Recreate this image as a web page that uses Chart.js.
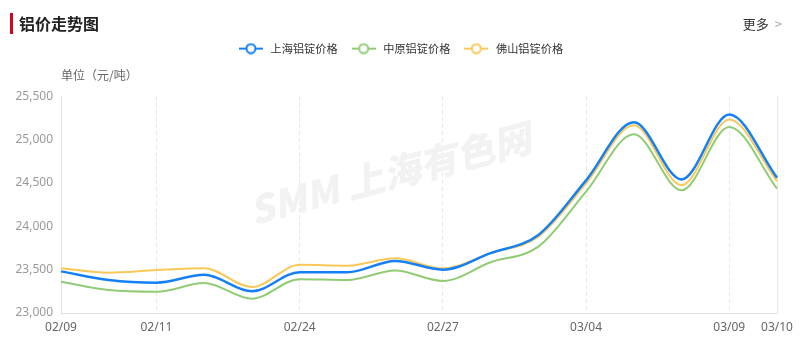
<!DOCTYPE html>
<html>
<head>
<meta charset="utf-8">
<script src="https://cdn.jsdelivr.net/npm/chart.js@4/dist/chart.umd.min.js"></script>
<style>
  body { margin: 0; background: #fff; font-family: 'Noto Sans CJK SC', 'Noto Sans', sans-serif; }
  #wrap { position: relative; width: 800px; height: 352px; }
  #wrap canvas { position: absolute; left: 0; top: 0; }
  .title { position: absolute; left: 10px; top: 13px; height: 21px; border-left: 3px solid #d9001b;
    padding-left: 6px; font-size: 16px; font-weight: bold; line-height: 21px; color: #222; }
  .more { position: absolute; right: 18px; top: 15px; font-size: 13px; color: #333; line-height: 18px; }
  .more span { color: #aaa; margin-left: 6px; }
  .unit { position: absolute; left: 61px; top: 66px; font-size: 12px; color: #666; line-height: 18px; }
</style>
</head>
<body>
<div id="wrap">
  <canvas id="chart" width="800" height="352"></canvas>
  <div class="title">铝价走势图</div>
  <div class="more">更多<span>&gt;</span></div>
  <div class="unit">单位（元/吨）</div>
</div>
<script>
/* data */
const dates = ['02/09', '02/10', '02/11', '02/12', '02/13', '02/24', '02/25', '02/26',
  '02/27', '03/02', '03/03', '03/04', '03/05', '03/06', '03/09', '03/10'];
const shownDates = ['02/09', '02/11', '02/24', '02/27', '03/04', '03/09', '03/10'];

const shanghai = [23480, 23380, 23350, 23440, 23250, 23470, 23470, 23600,
  23500, 23690, 23900, 24530, 25200, 24540, 25290, 24560];
const zhongyuan = [23360, 23265, 23245, 23345, 23165, 23390, 23380, 23490,
  23370, 23585, 23765, 24400, 25060, 24415, 25145, 24435];
const foshan = [23515, 23465, 23495, 23515, 23300, 23555, 23545, 23630,
  23515, 23690, 23880, 24495, 25165, 24475, 25230, 24520];

const seriesNames = ['上海铝锭价格', '中原铝锭价格', '佛山铝锭价格'];
const seriesColors = ['#1580f5', '#91cc75', '#fac858'];

const yMin = 23000;
const yMax = 25500;
const yStep = 500;

function legendIcon (color) {
  const c = document.createElement('canvas');
  c.width = 24;
  c.height = 12;
  const g = c.getContext('2d');
  g.strokeStyle = color;
  g.lineWidth = 2;
  g.beginPath();
  g.moveTo(0, 6);
  g.lineTo(24, 6);
  g.stroke();
  g.fillStyle = '#fff';
  g.beginPath();
  g.arc(12, 6, 4.5, 0, Math.PI * 2);
  g.fill();
  g.stroke();
  return c;
}

// leave room under the legend for the unit label
const legendGap = {
  id: 'legendGap',
  beforeInit (chart) {
    const lg = chart.legend;
    if (!lg) return;
    const fit = lg.fit;
    lg.fit = function () {
      fit.call(this);
      this.height += 32;
    };
  }
};

const watermark = {
  id: 'watermark',
  beforeDatasetsDraw (chart) {
    const ctx = chart.ctx;
    ctx.save();
    ctx.translate(390, 174);
    ctx.rotate(-15 * Math.PI / 180);
    ctx.fillStyle = '#f2f2f2';
    ctx.textAlign = 'center';
    ctx.textBaseline = 'middle';
    ctx.font = 'italic 900 38px "Noto Sans CJK SC", sans-serif';
    ctx.fillText('SMM 上海有色网', 0, 0);
    ctx.restore();
  }
};

const gridIdx = [2, 5, 8, 11, 14];

new Chart(document.getElementById('chart'), {
  type: 'line',
  data: {
    labels: dates,
    datasets: [shanghai, zhongyuan, foshan].map((vals, i) => ({
      label: seriesNames[i],
      data: vals,
      borderColor: seriesColors[i],
      backgroundColor: seriesColors[i],
      borderWidth: i === 0 ? 2.5 : 2,
      pointRadius: 0,
      cubicInterpolationMode: 'monotone',
      fill: false
    }))
  },
  options: {
    responsive: false,
    animation: false,
    events: [],
    layout: { padding: { top: 31, right: 0, bottom: 0, left: 0 } },
    plugins: {
      tooltip: { enabled: false },
      legend: {
        position: 'top',
        labels: {
          usePointStyle: true,
          pointStyleWidth: 28,
          padding: 12,
          color: '#333',
          font: { size: 11.2, family: '"Noto Sans CJK SC", sans-serif' },
          generateLabels (chart) {
            return chart.data.datasets.map((ds, i) => ({
              text: ds.label,
              pointStyle: legendIcon(seriesColors[i]),
              fillStyle: seriesColors[i],
              strokeStyle: seriesColors[i],
              fontColor: '#333',
              lineWidth: 0,
              datasetIndex: i
            }));
          }
        }
      }
    },
    scales: {
      x: {
        grid: {
          drawTicks: false,
          color: (c) => gridIdx.includes(c.index) ? '#e8e8e8' : 'rgba(0,0,0,0)'
        },
        border: { color: '#e0e0e0', dash: [4, 3] },
        ticks: {
          autoSkip: false,
          maxRotation: 0,
          padding: 7,
          color: '#666',
          font: { size: 12, family: '"Noto Sans", "Noto Sans CJK SC", sans-serif' },
          callback (v, i) {
            const lab = dates[i];
            return shownDates.includes(lab) ? lab : '';
          }
        },
        afterFit (s) { s.height = 39; }
      },
      y: {
        min: yMin,
        max: yMax,
        grid: { display: false, drawTicks: false },
        border: { color: '#e0e0e0' },
        ticks: {
          stepSize: yStep,
          padding: 8,
          color: '#999',
          font: { size: 12, family: '"Noto Sans", "Noto Sans CJK SC", sans-serif' },
          callback: (v) => v.toLocaleString('en-US')
        },
        afterFit (s) { s.width = 61; }
      },
      y2: {
        position: 'right',
        min: yMin,
        max: yMax,
        grid: { display: false, drawTicks: false },
        border: { color: '#e8e8e8' },
        ticks: { display: false },
        afterFit (s) { s.width = 23; }
      }
    }
  },
  plugins: [legendGap, watermark]
});
</script>
</body>
</html>
